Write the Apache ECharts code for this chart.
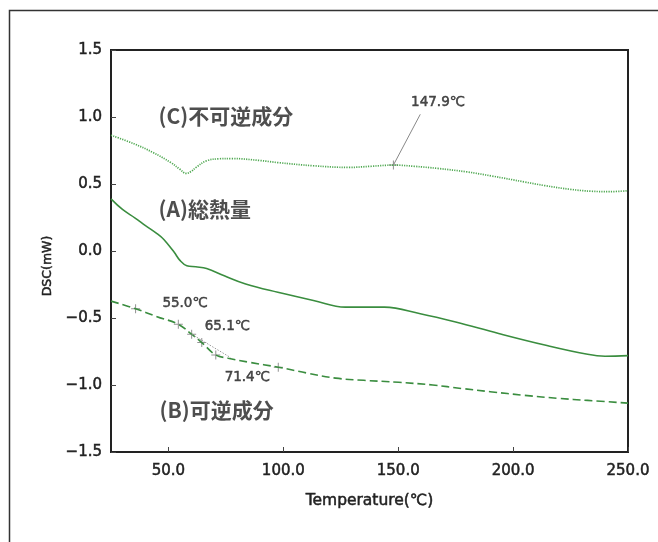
<!DOCTYPE html>
<html><head><meta charset="utf-8">
<script src="https://cdn.jsdelivr.net/npm/echarts@6/dist/echarts.min.js"></script>
<style>html,body{margin:0;padding:0;background:#fff}#c{width:658px;height:542px}</style>
</head><body><div id="c"></div>
<script>
// Temperature (°C) / DSC (mW)
const tempA = [25, 30, 35.5, 40, 45, 48, 52.6, 55, 58, 61.9, 66.6, 74.3, 83.6, 97.6, 113.1, 127, 135, 144, 159.6, 175, 193.7, 213.8, 232.4, 240, 250];
const dscA  = [0.389, 0.31, 0.246, 0.19, 0.13, 0.086, -0.012, -0.07, -0.11, -0.118, -0.13, -0.185, -0.246, -0.308, -0.369, -0.419, -0.418, -0.419, -0.468, -0.53, -0.616, -0.702, -0.771, -0.785, -0.781];
const tempB = [25, 35.7, 45, 54.3, 60.1, 64.5, 70.6, 76, 85, 97.8, 110, 122.8, 135, 150.2, 165, 177.6, 190, 205, 220, 232.4, 250];
const dscB  = [-0.374, -0.431, -0.49, -0.547, -0.621, -0.683, -0.776, -0.80, -0.83, -0.867, -0.91, -0.949, -0.965, -0.98, -1.0, -1.026, -1.05, -1.077, -1.10, -1.115, -1.135];
const tempC = [25, 35, 43.3, 51, 55, 57.7, 60, 62, 66.6, 72, 77.4, 90, 97.6, 113.1, 128.6, 138, 147.9, 157, 167.3, 180, 190.6, 205, 213.8, 225, 234, 242, 250];
const dscC  = [0.864, 0.80, 0.735, 0.66, 0.61, 0.579, 0.595, 0.624, 0.673, 0.688, 0.69, 0.675, 0.66, 0.636, 0.624, 0.632, 0.641, 0.632, 0.616, 0.59, 0.56, 0.515, 0.488, 0.46, 0.446, 0.443, 0.45];
// marker crosses
const crossT = [35.7, 54.3, 60.1, 64.5, 70.6, 97.8, 147.9];
const crossV = [-0.431, -0.547, -0.621, -0.683, -0.776, -0.867, 0.641];
// tangent helper line on (B)
const tangentT = [60.1, 77];
const tangentV = [-0.621, -0.795];
// leader line for 147.9
const leaderT = [147.9, 159.6];
const leaderV = [0.641, 1.02];
// temperature annotations
const annoText = ['55.0℃', '65.1℃', '71.4℃', '147.9℃'];
const annoT = [57.2, 75.6, 84.3, 167.3];
const annoV = [-0.392, -0.567, -0.946, 1.108];
// curve names
const curveNames = ['(C)不可逆成分', '(A)総熱量', '(B)可逆成分'];
const curveNameT = [45.5, 45.5, 45.9];
const curveNameV = [1.005, 0.317, -1.19];
const xTicks = [50, 100, 150, 200, 250];

const zip = (a, b) => a.map((v, i) => [v, b[i]]);
const FONT = '"DejaVu Sans", "Noto Sans CJK JP", sans-serif';
const CJK = '"Noto Sans CJK JP", "Noto Sans", sans-serif';
const INK = '#222';
const thick = {textBorderColor: INK, textBorderWidth: 0.5};
const green = '#3a8d3f';
const plus = 'path://M8,0 L10,0 L10,8 L18,8 L18,10 L10,10 L10,18 L8,18 L8,10 L0,10 L0,8 L8,8 Z';

const chart = echarts.init(document.getElementById('c'), null, {renderer: 'canvas'});
chart.setOption({
  animation: false,
  textStyle: {fontFamily: FONT},
  grid: {left: 111, right: 30, top: 50, bottom: 90, show: true, borderColor: '#222', borderWidth: 2, backgroundColor: 'transparent'},
  xAxis: {
    type: 'value', min: 25, max: 250,
    name: 'Temperature(℃)', nameLocation: 'middle', nameGap: 41,
    nameTextStyle: Object.assign({fontFamily: FONT, fontSize: 15.5, color: INK}, thick),
    axisLine: {show: true, onZero: false, lineStyle: {color: '#222', width: 2}},
    axisTick: {show: true, inside: true, length: 5, lineStyle: {color: '#444', width: 1}, customValues: xTicks},
    axisLabel: Object.assign({customValues: xTicks, formatter: v => v.toFixed(1), fontFamily: FONT, fontSize: 15, color: INK, margin: 12}, thick),
    splitLine: {show: false}
  },
  yAxis: {
    type: 'value', min: -1.5, max: 1.5, interval: 0.5,
    name: 'DSC(mW)', nameLocation: 'middle', nameGap: 49,
    nameTextStyle: Object.assign({fontFamily: FONT, fontSize: 12.5, color: INK, padding: [0, 30, 0, 0]}, thick),
    axisLine: {show: true, onZero: false, lineStyle: {color: '#222', width: 2}},
    axisTick: {show: true, inside: true, length: 5, lineStyle: {color: '#444', width: 1}},
    axisLabel: Object.assign({formatter: v => v.toFixed(1).replace('-', '−'), fontFamily: FONT, fontSize: 15, color: INK, margin: 9}, thick),
    splitLine: {show: false}
  },
  graphic: [{
    type: 'polyline', silent: true,
    shape: {points: [[9.5, 542], [9.5, 10.5], [658, 10.5]]},
    style: {stroke: '#333', lineWidth: 1.5, fill: null}
  }],
  series: [
    {type: 'line', name: 'C', data: zip(tempC, dscC), smooth: 0.4, showSymbol: false,
     lineStyle: {color: '#4fa851', width: 1.7, type: [1.2, 1.2]}},
    {type: 'line', name: 'A', data: zip(tempA, dscA), smooth: 0.4, showSymbol: false,
     lineStyle: {color: green, width: 1.6}},
    {type: 'line', name: 'B', data: zip(tempB, dscB), smooth: 0.4, showSymbol: false,
     lineStyle: {color: green, width: 1.6, type: [8, 4]}},
    {type: 'line', name: 'tangent', data: zip(tangentT, tangentV), showSymbol: false,
     lineStyle: {color: '#999', width: 1, type: [1.5, 1.5]}},
    {type: 'line', name: 'leader', data: zip(leaderT, leaderV), showSymbol: false,
     lineStyle: {color: '#888', width: 1}},
    {type: 'scatter', name: 'cross', data: zip(crossT, crossV), symbol: plus, symbolSize: 9,
     itemStyle: {color: '#777'}},
    {type: 'scatter', name: 'anno', symbolSize: 1, itemStyle: {color: 'transparent'},
     data: annoT.map((t, i) => ({value: [t, annoV[i]], label: {formatter: annoText[i]}})),
     label: Object.assign({show: true, position: 'inside', fontFamily: FONT, fontSize: 13.5, color: INK}, thick)},
    {type: 'scatter', name: 'names', symbolSize: 1, itemStyle: {color: 'transparent'},
     data: curveNameT.map((t, i) => ({value: [t, curveNameV[i]], label: {formatter: curveNames[i]}})),
     label: {show: true, position: 'right', distance: 0, fontFamily: CJK, fontSize: 21, fontWeight: 'bold', color: INK}}
  ]
});
</script>
</body></html>
